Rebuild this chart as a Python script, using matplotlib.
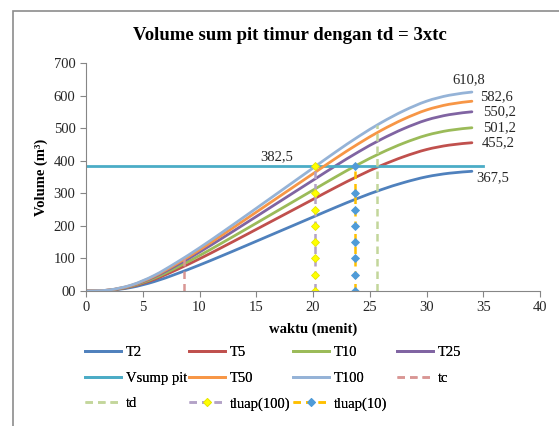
import matplotlib
matplotlib.use("Agg")
import matplotlib.pyplot as plt
from matplotlib.patches import Rectangle, PathPatch
from matplotlib.path import Path

plt.rcParams['font.family'] = ['Liberation Serif', 'DejaVu Serif']

# ---- data ----
t = [0, 2, 4, 6, 8, 10, 12, 14, 16, 18, 20, 22, 24, 26, 28, 30, 32, 34]
T2 = [0, 1.8, 11.0, 28.7, 52.9, 79.7, 108.4, 137.8, 167.6, 197.3, 227.1, 256.9, 285.2, 310.9, 333.0, 350.6, 361.6, 367.5]
T5 = [0, 2.3, 13.7, 35.5, 65.5, 98.8, 134.3, 170.7, 207.6, 244.4, 281.3, 318.2, 353.2, 385.1, 412.4, 434.3, 447.9, 455.2]
T10 = [0, 2.5, 15.0, 39.1, 72.2, 108.8, 147.9, 188.0, 228.5, 269.1, 309.7, 350.3, 388.9, 424.0, 454.1, 478.1, 493.2, 501.2]
T25 = [0, 2.8, 16.5, 42.9, 79.2, 119.4, 162.3, 206.3, 250.9, 295.5, 340.0, 384.6, 427.0, 465.5, 498.5, 524.9, 541.4, 550.2]
T50 = [0, 2.9, 17.5, 45.4, 83.9, 126.4, 171.9, 218.5, 265.7, 312.9, 360.0, 407.2, 452.1, 492.9, 527.8, 555.8, 573.3, 582.6]
T100 = [0, 3.1, 18.3, 47.6, 88.0, 132.5, 180.2, 229.1, 278.5, 328.0, 377.5, 427.0, 474.0, 516.7, 553.4, 582.7, 601.0, 610.8]

vsump_x = [0, 35]
vsump_y = [382.5, 382.5]
tc_x = [8.6, 8.6]
tc_y = [0, 104]
td_x = [25.6, 25.6]
td_y = [0, 510]
tluap100_x = [20.2] * 8
tluap10_x = [23.7] * 8
tluap_y = [0, 50, 100, 150, 200, 250, 300, 382.5]

end_labels = ["610,8", "582,6", "550,2", "501,2", "455,2", "367,5"]
end_label_xy = [(33.7, 649), (34.7, 596), (35.0, 550), (35.0, 501), (34.9, 455), (34.4, 349)]
vsump_label = "382,5"

yticks = [0, 100, 200, 300, 400, 500, 600, 700]
ytick_labels = ["00", "100", "200", "300", "400", "500", "600", "700"]
xticks = [0, 5, 10, 15, 20, 25, 30, 35, 40]


def smooth_path(xs, ys):
    """Excel-style smoothed line: Catmull-Rom segments drawn as cubic Beziers."""
    pts = list(zip(xs, ys))
    n = len(pts)
    verts = [pts[0]]
    codes = [Path.MOVETO]
    for i in range(n - 1):
        p0 = pts[i - 1] if i > 0 else pts[i]
        p1 = pts[i]
        p2 = pts[i + 1]
        p3 = pts[i + 2] if i + 2 < n else pts[i + 1]
        c1 = (p1[0] + (p2[0] - p0[0]) / 6, p1[1] + (p2[1] - p0[1]) / 6)
        c2 = (p2[0] - (p3[0] - p1[0]) / 6, p2[1] - (p3[1] - p1[1]) / 6)
        verts += [c1, c2, p2]
        codes += [Path.CURVE4] * 3
    return Path(verts, codes)


# ---- figure ----
fig = plt.figure(figsize=(5.59, 4.26), dpi=100)
ax = fig.add_axes([86 / 559, 1 - 291 / 426, (540 - 86) / 559, (291 - 63) / 426])

fig.patches.append(Rectangle((13 / 559, -0.2), 1.2, 0.2 + (1 - 11 / 426),
                             transform=fig.transFigure, fill=False,
                             edgecolor='#8c8c8c', lw=1.2))

lw = 2.0
h = {}
series = [('T2', T2, '#4F81BD'), ('T5', T5, '#C0504D'), ('T10', T10, '#9BBB59'),
          ('T25', T25, '#8064A2')]
for name, ys, col in series:
    ax.add_patch(PathPatch(smooth_path(t, ys), fill=False, edgecolor=col, lw=lw,
                           capstyle='round', zorder=2))
    h[name], = ax.plot([], [], color=col, lw=lw, label=name)

h['Vsump'], = ax.plot(vsump_x, vsump_y, color='#4BACC6', lw=lw, label='Vsump pit', zorder=2)

for name, ys, col in [('T50', T50, '#F79646'), ('T100', T100, '#95B3D7')]:
    ax.add_patch(PathPatch(smooth_path(t, ys), fill=False, edgecolor=col, lw=lw,
                           capstyle='round', zorder=2))
    h[name], = ax.plot([], [], color=col, lw=lw, label=name)

h['tc'], = ax.plot(tc_x, tc_y, color='#D99694', lw=1.8, ls=(0, (3, 2)), label='tc')
h['td'], = ax.plot(td_x, td_y, color='#C3D69B', lw=1.8, ls=(0, (3, 2)), label='td')
h['tl100'], = ax.plot(tluap100_x, tluap_y, color='#B3A2C7', lw=1.8, ls=(0, (3, 2)),
                      marker='D', ms=4.5, mfc='#FFFF00', mec='#E6E600', mew=0.6,
                      label='tluap(100)')
h['tl10'], = ax.plot(tluap10_x, tluap_y, color='#FFC000', lw=1.8, ls=(0, (3, 2)),
                     marker='D', ms=4.5, mfc='#4F9BD8', mec='#4F9BD8', mew=0.6,
                     label='tluap(10)')

for lab, (x, y) in zip(end_labels, end_label_xy):
    ha = 'center' if lab == "610,8" else 'left'
    ax.text(x, y, lab, ha=ha, va='center', fontsize=10.5, color='#262626')
ax.text(16.8, 412, vsump_label, ha='center', va='center', fontsize=10.5, color='#262626')

ax.set_xlim(0, 40)
ax.set_ylim(0, 700)
ax.set_xticks(xticks)
ax.set_yticks(yticks)
ax.set_yticklabels(ytick_labels)
ax.tick_params(axis='both', labelsize=10.5, colors='#868686', labelcolor='#262626',
               length=4, width=0.8, direction='out')
for s in ['top', 'right']:
    ax.spines[s].set_visible(False)
for s in ['left', 'bottom']:
    ax.spines[s].set_color('#868686')
    ax.spines[s].set_linewidth(0.8)

ax.set_xlabel('waktu (menit)', fontsize=10.5, fontweight='bold', labelpad=6)
ax.set_ylabel('Volume (m³)', fontsize=10.5, fontweight='bold', labelpad=4)
fig.text(290 / 559, 1 - 35 / 426, 'Volume sum pit timur dengan td = 3xtc',
         ha='center', va='center', fontsize=13.5, fontweight='bold')

# legend in 4 columns
cols = [['T2', 'Vsump', 'td'], ['T5', 'T50', 'tl100'], ['T10', 'T100', 'tl10'], ['T25', 'tc']]
col_x = [85, 189, 293, 397]
for keys, cx in zip(cols, col_x):
    leg = fig.legend([h[k] for k in keys], [h[k].get_label() for k in keys],
                     loc='upper left', bbox_to_anchor=(cx / 559, 1 - 346 / 426),
                     frameon=False, fontsize=10.5, handlelength=2.5,
                     handletextpad=0.3, labelspacing=0.85, borderpad=0, borderaxespad=0,
                     numpoints=1)
    fig.add_artist(leg)

fig.savefig('out.png', dpi=100)
